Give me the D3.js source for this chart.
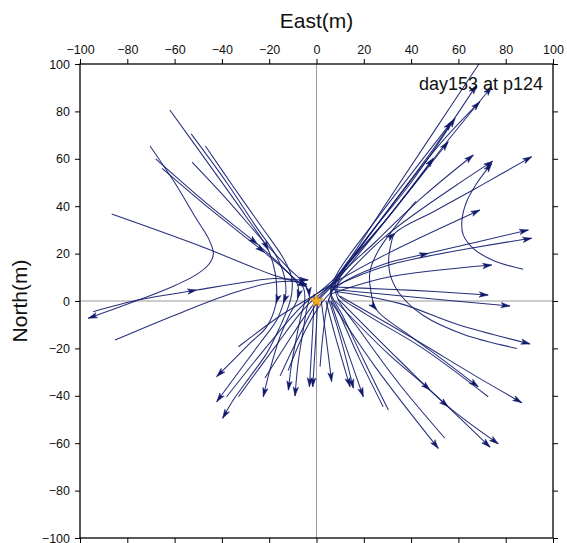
<!DOCTYPE html>
<html><head><meta charset="utf-8">
<script src="https://cdn.jsdelivr.net/npm/d3@7"></script>
<style>
body{margin:0;background:#fff}
text{font-family:"Liberation Sans",Arial,Helvetica,sans-serif}
</style>
</head><body>
<svg id="c" width="567" height="543"></svg>
<script>
// ---------- data (East, North in metres; third value 1 = arrowhead at that point) ----------
const xTicks = [-100,-80,-60,-40,-20,0,20,40,60,80,100];
const yTicks = [-100,-80,-60,-40,-20,0,20,40,60,80,100];
const stationPos = [0,0];
const titleText = "day153 at p124";

// incoming from the north-west, turning down near the origin, leaving to the south-west
const nwTracks = [
  [[-62,80.6],[-45,57],[-30,36],[-20.4,21.5,1],[-17.5,12],[-16.8,4],[-17.1,-1,1],[-21,-10.8],[-28,-17.7],[-42.2,-31.9,1]],
  [[-53,70.5],[-38,50],[-26,32],[-17,19],[-13.5,10],[-13,3],[-14,-1,1],[-16.8,-8],[-23.9,-17.8],[-32.3,-29.1],[-42.2,-42.5,1]],
  [[-47,65.4],[-35,48],[-23,31],[-14,18],[-10.5,10],[-10.5,3],[-11.9,-2.4],[-15.4,-10.8],[-21,-22],[-28.1,-31.9],[-35.2,-41.8],[-39.7,-49.5,1]],
  [[-68,60],[-45,40],[-25,24,1],[-13,13],[-8,7],[-8,1,1],[-11,-5],[-15.4,-15],[-19.7,-29.1],[-22.5,-40.4,1]],
  [[-65.3,56],[-44,38],[-22,20.5,1],[-11,11],[-5.5,5.5],[-5,0],[-6.5,-6],[-8.4,-15],[-10.5,-26.3],[-11.9,-37.6,1]],
  [[-52.6,58.6],[-38,43],[-24,27],[-12,14],[-5,7],[-3,2,1],[-4.1,-3],[-5.6,-12.2],[-7.8,-26.3],[-9.1,-40.1,1]],
  [[-86.6,36.7],[-50,23.5],[-17,10.5],[-4,7,1]],
  [[-70.4,65.4],[-60,50],[-51,35],[-45.5,26],[-43.6,20],[-45.5,15.5],[-51,11],[-61,6],[-75,0.5],[-96.5,-7.3,1]]
];

// from the west towards the origin
const westTracks = [
  [[-94.4,-4.5],[-75,0.5],[-50.7,4.6,1],[-30,8],[-18,9.5],[-9,9],[-3.5,8.9,1]],
  [[-85.2,-16.5],[-60,-6],[-35,3.5],[-17,8],[-8,8],[-4,6,1]]
];

// starting in the south-west, crossing the origin
const swTracks = [
  [[-33,-19.3],[-15,-6],[0,3],[8,8],[30,20],[69.1,38.4,1]],
  [[-38,-40.4],[-20,-18],[-6,-2],[6,8],[30,35],[55,67],[74.1,90.4,1]],
  [[-33,-40.4],[-18,-20],[-5,-3],[7,8],[30,38],[52,66],[69.1,84.1,1]],
  [[-21.8,-32.5],[-10,-14],[-1,-1],[8,9],[30,42],[50,72],[68.4,99.6],[74,108]],
  [[-15.4,-31.6],[-7,-14],[0,-1],[8,8],[30,35],[49.4,60.2,1]],
  [[-12,-29.4],[-5,-13],[2,-1],[10,7],[30,16],[47.3,20.1,1],[89.6,30,1]],
  [[-1,3],[-1.5,-10],[-3,-36.2,1]],
  [[0.5,2],[0,-10],[-1.6,-36.2,1]]
];

// leaving to the north-east
const neTracks = [
  [[72.6,-40.4],[45,-20],[20,-5],[9,3],[10,10],[25,25],[45,44],[66.3,61.6,1]],
  [[54.3,-57.9],[35,-35],[18,-12],[9,1],[8,8],[20,25],[40,50],[58.6,77.1,1]],
  [[30.4,-46],[20,-25],[11,-6],[6,4],[9,12],[25,34],[57.2,75.7,1]],
  [[28.2,-44.6],[18,-24],[10,-6],[6,3],[9,10],[30,35],[55.7,67.2,1]],
  [[1.5,-27.7],[3,-12],[5,0],[9,9],[30,38],[50,65],[67.7,91.1,1]],
  [[84.7,-20],[62,-14],[45,-6],[36,2],[31.5,10],[30.5,17],[31.5,24],[33.2,28.6,1],[50,38],[70,49],[91,60.9,1]],
  [[87.4,13.4],[75,17],[66.5,22],[62,28],[61.5,34],[63.5,42],[68,50],[74.1,58.1,1]],
  [[42,42],[33,31],[26,21],[22.6,12.4],[23,4],[25.5,-3.8,1],[40,-15],[55,-26],[68.4,-36.2,1]],
  [[6,4],[30,28],[74.5,59,1]],
  [[5,5],[30,15],[91,26.5,1]],
  [[6,3],[30,10],[74.1,15.2,1]]
];

// leaving to the south-east
const seTracks = [
  [[5,6],[30,5],[50,4],[72.6,2.5,1]],
  [[6,5],[39.5,1.8],[81.8,-2.1,1]],
  [[8,4],[35,-1],[60,-10],[90.3,-18.1,1]],
  [[10,2],[39.5,-15],[67.7,-31.9],[86.8,-42.9,1]],
  [[9,1],[35,-25],[55.7,-44.6,1],[76.9,-60.3,1]],
  [[8,0],[30,-22],[48,-37.6,1],[73.4,-61.7,1]],
  [[6,0],[25,-28],[51.5,-62.2,1]],
  [[6,0],[12,-18],[19.8,-40.4,1]],
  [[5,1],[10,-15],[15.6,-36.8,1]],
  [[4,0],[8,-15],[14.2,-36.2,1]],
  [[2,0],[4,-15],[6.4,-34,1]]
];

// ---------- drawing ----------
const svg = d3.select('#c');
const L = 80, R = 553, T = 64, B = 538;
const x = d3.scaleLinear().domain([-100,100]).range([L,R]);
const y = d3.scaleLinear().domain([-100,100]).range([B,T]);
const ink = '#101a6b';

svg.append('rect').attr('width',567).attr('height',543).attr('fill','#fff');
svg.append('defs').append('clipPath').attr('id','clip')
  .append('rect').attr('x',L).attr('y',T).attr('width',R-L).attr('height',B-T);

const plot = svg.append('g').attr('clip-path','url(#clip)');
// zero lines
plot.append('line').attr('x1',x(0)).attr('x2',x(0)).attr('y1',T).attr('y2',B)
  .attr('stroke','#9a9a9a').attr('stroke-width',1);
plot.append('line').attr('x1',L).attr('x2',R).attr('y1',y(0)).attr('y2',y(0))
  .attr('stroke','#9a9a9a').attr('stroke-width',1);

const allTracks = [].concat(nwTracks, westTracks, swTracks, neTracks, seTracks);
const lineGen = d3.line().x(d=>x(d[0])).y(d=>y(d[1])).curve(d3.curveCatmullRom.alpha(0.5));

plot.selectAll('path.trk').data(allTracks).join('path')
  .attr('class','trk').attr('d',lineGen)
  .attr('fill','none').attr('stroke',ink).attr('stroke-width',1.05)
  .attr('stroke-opacity',0.9);

function arrowHead(px,py,dx,dy){
  const n = Math.hypot(dx,dy)||1, ux=dx/n, uy=dy/n, vx=-uy, vy=ux;
  const len=9, hw=2.7, notch=6.8;
  const bx=px-len*ux, by=py-len*uy;
  return `M${px},${py}L${bx+hw*vx},${by+hw*vy}L${px-notch*ux},${py-notch*uy}L${bx-hw*vx},${by-hw*vy}Z`;
}
const heads = [];
allTracks.forEach(tr=>{
  const s = tr.map(p=>[x(p[0]),y(p[1])]);
  tr.forEach((p,i)=>{
    if(p[2]!==1) return;
    let a = s[Math.max(i-1,0)], b = (i===s.length-1)? s[i] : s[i+1];
    heads.push(arrowHead(s[i][0],s[i][1],b[0]-a[0],b[1]-a[1]));
  });
});
plot.selectAll('path.hd').data(heads).join('path')
  .attr('class','hd').attr('d',d=>d).attr('fill',ink).attr('stroke',ink).attr('stroke-width',0.5);

// station star
const star = d3.symbol().type(d3.symbolStar).size(60);
plot.append('path').attr('d',star())
  .attr('transform',`translate(${x(stationPos[0])},${y(stationPos[1])})`)
  .attr('fill','#f6a91f').attr('stroke','#e08a00').attr('stroke-width',0.4);

// axes
const axTop = svg.append('g').attr('transform',`translate(0,${T})`)
  .call(d3.axisTop(x).tickValues(xTicks).tickSize(5).tickSizeOuter(0).tickPadding(5));
const axBot = svg.append('g').attr('transform',`translate(0,${B})`)
  .call(d3.axisBottom(x).tickValues(xTicks).tickSize(5).tickSizeOuter(0).tickFormat(''));
const axLeft = svg.append('g').attr('transform',`translate(${L},0)`)
  .call(d3.axisLeft(y).tickValues(yTicks).tickSize(5).tickSizeOuter(0).tickPadding(5));
const axRight = svg.append('g').attr('transform',`translate(${R},0)`)
  .call(d3.axisRight(y).tickValues(yTicks).tickSize(5).tickSizeOuter(0).tickFormat(''));
[axTop,axBot,axLeft,axRight].forEach(a=>{
  a.select('.domain').remove();
  a.selectAll('line').attr('stroke','#000').attr('stroke-width',1);
  a.selectAll('text').attr('fill','#111').style('font-size','12.5px')
   .style('font-family','"Liberation Sans",Arial,sans-serif');
});
svg.append('rect').attr('x',L).attr('y',T).attr('width',R-L).attr('height',B-T)
  .attr('fill','none').attr('stroke','#000').attr('stroke-width',1.3);

// labels
svg.append('text').attr('x',(L+R)/2).attr('y',28).attr('text-anchor','middle')
  .style('font-size','21px').attr('fill','#111').text('East(m)');
svg.append('text').attr('transform',`translate(27,${(T+B)/2}) rotate(-90)`).attr('text-anchor','middle')
  .style('font-size','21px').attr('fill','#111').text('North(m)');
svg.append('text').attr('x',543).attr('y',90).attr('text-anchor','end')
  .style('font-size','18px').attr('fill','#111').text(titleText);
</script>
</body></html>
